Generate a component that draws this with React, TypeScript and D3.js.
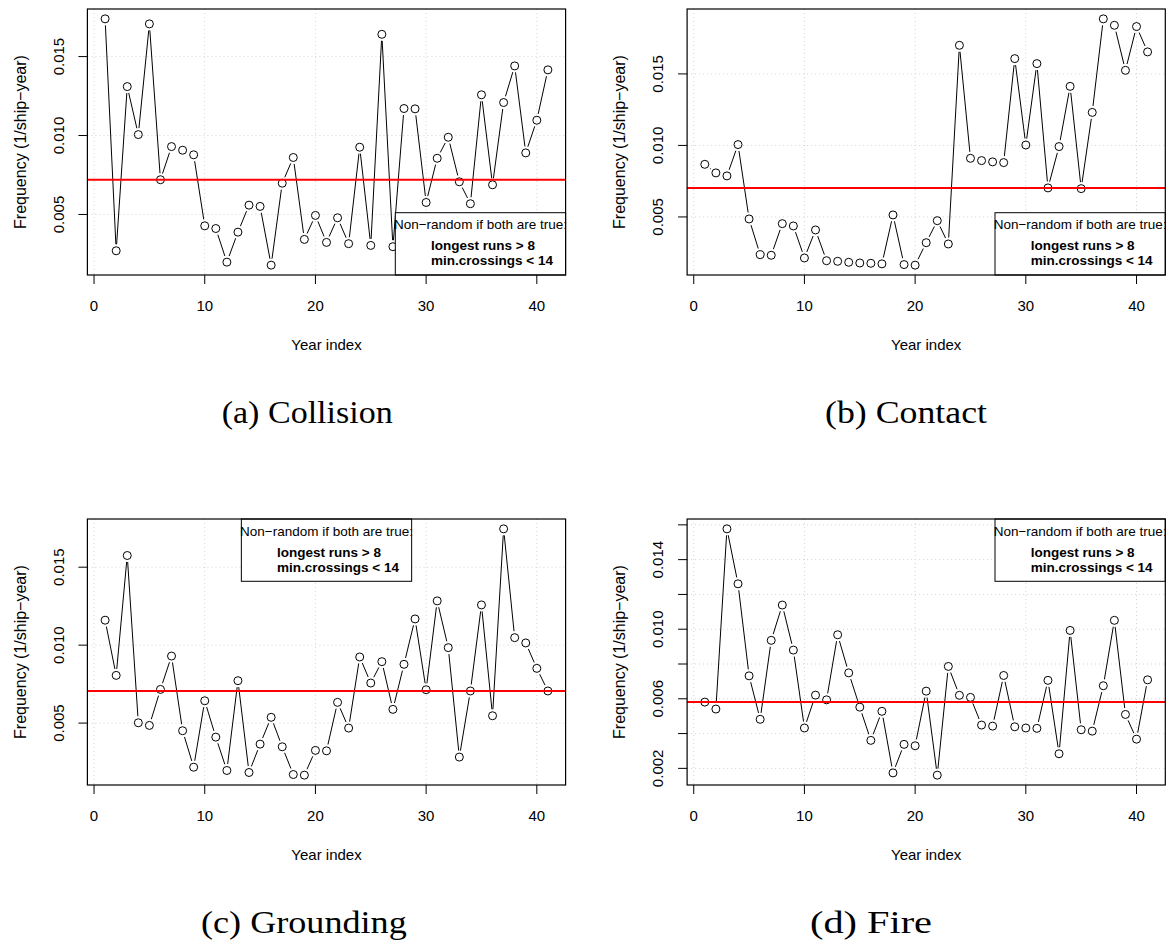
import React from "react";
import * as d3 from "d3";

const years = d3.range(1, 42);

const collision = [
  0.01739, 0.0027, 0.0131, 0.01006, 0.01707, 0.0072, 0.0093, 0.00907, 0.00878, 0.00428,
  0.00411, 0.00198, 0.00388, 0.00559, 0.00551, 0.00179, 0.00698, 0.00861, 0.00342, 0.00494,
  0.00323, 0.00479, 0.00315, 0.00926, 0.00304, 0.01641, 0.00296, 0.01171, 0.01169, 0.00576,
  0.00856, 0.00989, 0.00707, 0.00568, 0.01258, 0.00688, 0.01209, 0.01441, 0.0089, 0.01097,
  0.01416,
];
const contact = [
  0.00868, 0.00808, 0.00787, 0.01006, 0.00486, 0.00236, 0.00232, 0.00453, 0.00437, 0.00213,
  0.00409, 0.00194, 0.0019, 0.00183, 0.00178, 0.00176, 0.00172, 0.00514, 0.00167, 0.00163,
  0.0032, 0.00474, 0.00311, 0.017, 0.0091, 0.00894, 0.00885, 0.0088, 0.01607, 0.01003,
  0.01572, 0.00703, 0.00992, 0.01413, 0.00698, 0.01231, 0.01885, 0.0184, 0.01525, 0.01831,
  0.01654,
];
const grounding = [
  0.0116, 0.00806, 0.01575, 0.00502, 0.00485, 0.00716, 0.0093, 0.00451, 0.00217, 0.00643,
  0.0041, 0.00196, 0.00772, 0.00183, 0.00365, 0.00537, 0.00348, 0.0017, 0.00166, 0.00325,
  0.00322, 0.00633, 0.00468, 0.00924, 0.00757, 0.00894, 0.00588, 0.00877, 0.01168, 0.00714,
  0.01284, 0.00984, 0.00282, 0.00706, 0.01258, 0.00547, 0.01746, 0.01048, 0.01014, 0.00851,
  0.00706,
];
const fire = [
  0.00581, 0.00541, 0.01577, 0.01261, 0.00732, 0.00482, 0.00936, 0.01139, 0.0088, 0.00432,
  0.00621, 0.00594, 0.00968, 0.00749, 0.00552, 0.00361, 0.00528, 0.00174, 0.00338, 0.0033,
  0.00644, 0.00161, 0.00786, 0.0062, 0.00608, 0.00449, 0.00443, 0.00734, 0.00439, 0.00432,
  0.0043, 0.00706, 0.00284, 0.00993, 0.00422, 0.00414, 0.00675, 0.01051, 0.0051, 0.00368,
  0.00709,
];

const centerLines = [0.0072, 0.00703, 0.00706, 0.00581];
const captions = ["(a) Collision", "(b) Contact", "(c) Grounding", "(d) Fire"];
const xTicks = [0, 10, 20, 30, 40];
const yTicksStd = [0.005, 0.01, 0.015];
const yTicksFire = [0.002, 0.004, 0.006, 0.008, 0.01, 0.012, 0.014, 0.016];
const yLabelsFire = [0.002, 0.006, 0.01, 0.014];
const legendTitle = "Non\u2212random if both are true:";
const legendLines = ["longest runs > 8", "min.crossings < 14"];

const SANS = "'Liberation Sans', Arial, Helvetica, sans-serif";
const SERIF = "'Liberation Serif', 'Times New Roman', serif";

type PanelProps = {
  values: number[];
  center: number;
  left: number;
  top: number;
  yTicks: number[];
  yLabels: number[];
  legendPos: "bottomright" | "top" | "topright";
  caption: string;
  captionX0: number;
  captionX1: number;
};

const PW = 478.2;
const PH = 266;
const LW = 170.3;
const LH = 62.3;

function Panel({ values, center, left, top, yTicks, yLabels, legendPos, caption, captionX0, captionX1 }: PanelProps) {
  const x = d3.scaleLinear().domain([-0.6, 42.6]).range([left, left + PW]);
  const [mn, mx] = d3.extent(values) as [number, number];
  const pad = (mx - mn) * 0.04;
  const y = d3.scaleLinear().domain([mn - pad, mx + pad]).range([top + PH, top]);
  const fmt = d3.format(".3f");
  const r = 4;
  const gap = 6.5;
  const pts = values.map((v, i) => [x(years[i]), y(v)] as [number, number]);
  const segs: string[] = [];
  for (let i = 0; i < pts.length - 1; i++) {
    const [x0, y0] = pts[i];
    const [x1, y1] = pts[i + 1];
    const dx = x1 - x0;
    const dy = y1 - y0;
    const d = Math.sqrt(dx * dx + dy * dy);
    if (d > 2 * gap) {
      const ux = dx / d;
      const uy = dy / d;
      segs.push(`M${x0 + ux * gap},${y0 + uy * gap}L${x1 - ux * gap},${y1 - uy * gap}`);
    }
  }
  let lx = left + PW - LW;
  let ly = top + PH - LH;
  if (legendPos === "top") {
    lx = left + PW / 2 - LW / 2;
    ly = top;
  } else if (legendPos === "topright") {
    ly = top;
  }
  const bottom = top + PH;
  return (
    <g>
      {xTicks.map((t) => (
        <line key={"gx" + t} x1={x(t)} x2={x(t)} y1={top} y2={bottom} stroke="#d3d3d3" strokeDasharray="1,3" />
      ))}
      {yTicks.map((t) => (
        <line key={"gy" + t} x1={left} x2={left + PW} y1={y(t)} y2={y(t)} stroke="#d3d3d3" strokeDasharray="1,3" />
      ))}
      <path d={segs.join("")} stroke="#000" strokeWidth={1} fill="none" />
      {pts.map(([px, py], i) => (
        <circle key={i} cx={px} cy={py} r={r} fill="none" stroke="#000" strokeWidth={1} />
      ))}
      <line x1={left} x2={left + PW} y1={y(center)} y2={y(center)} stroke="#ff0000" strokeWidth={2} />
      <rect x={lx} y={ly} width={LW} height={LH} fill="#fff" stroke="#000" strokeWidth={1} />
      <text x={lx + LW / 2} y={ly + 12} dy="0.35em" textAnchor="middle" fontFamily={SANS} fontSize={13.5}>
        {legendTitle}
      </text>
      {legendLines.map((s, i) => (
        <text key={s} x={lx + 35.7} y={ly + 33 + i * 15} dy="0.35em" fontFamily={SANS} fontSize={13.5} fontWeight="bold">
          {s}
        </text>
      ))}
      <rect x={left} y={top} width={PW} height={PH} fill="none" stroke="#000" strokeWidth={1.2} />
      {xTicks.map((t) => (
        <g key={"xt" + t}>
          <line x1={x(t)} x2={x(t)} y1={bottom} y2={bottom + 9} stroke="#000" />
          <text x={x(t)} y={bottom + 31} dy="0.35em" textAnchor="middle" fontFamily={SANS} fontSize={15}>
            {t}
          </text>
        </g>
      ))}
      {yTicks.map((t) => (
        <line key={"yt" + t} x1={left - 9} x2={left} y1={y(t)} y2={y(t)} stroke="#000" />
      ))}
      {yLabels.map((t) => (
        <text
          key={"yl" + t}
          transform={`translate(${left - 29},${y(t)}) rotate(-90)`}
          dy="0.35em"
          textAnchor="middle"
          fontFamily={SANS}
          fontSize={15}
        >
          {fmt(t)}
        </text>
      ))}
      <text x={left + PW / 2} y={bottom + 70} dy="0.35em" textAnchor="middle" fontFamily={SANS} fontSize={15}>
        Year index
      </text>
      <text
        transform={`translate(${left - 67.5},${top + PH / 2}) rotate(-90)`}
        dy="0.35em"
        textAnchor="middle"
        fontFamily={SANS}
        fontSize={16}
      >
        Frequency (1/ship{"\u2212"}year)
      </text>
      <text
        x={captionX0}
        y={top + 414}
        fontFamily={SERIF}
        fontSize={32}
        textLength={captionX1 - captionX0}
        lengthAdjust="spacingAndGlyphs"
      >
        {caption}
      </text>
    </g>
  );
}

export default function App() {
  const L = [87.4, 687.1];
  const T = [9, 519];
  const capRanges = [
    [221.7, 392.7],
    [825, 987],
    [201, 406.7],
    [810, 932],
  ];
  return (
    <svg
      width={1166}
      height={942}
      style={{ position: "absolute", left: 0, top: 0, background: "#fff" }}
    >
      <rect x={0} y={0} width={1166} height={942} fill="#fff" />
      <Panel values={collision} center={centerLines[0]} left={L[0]} top={T[0]} yTicks={yTicksStd} yLabels={yTicksStd} legendPos="bottomright" caption={captions[0]} captionX0={capRanges[0][0]} captionX1={capRanges[0][1]} />
      <Panel values={contact} center={centerLines[1]} left={L[1]} top={T[0]} yTicks={yTicksStd} yLabels={yTicksStd} legendPos="bottomright" caption={captions[1]} captionX0={capRanges[1][0]} captionX1={capRanges[1][1]} />
      <Panel values={grounding} center={centerLines[2]} left={L[0]} top={T[1]} yTicks={yTicksStd} yLabels={yTicksStd} legendPos="top" caption={captions[2]} captionX0={capRanges[2][0]} captionX1={capRanges[2][1]} />
      <Panel values={fire} center={centerLines[3]} left={L[1]} top={T[1]} yTicks={yTicksFire} yLabels={yLabelsFire} legendPos="topright" caption={captions[3]} captionX0={capRanges[3][0]} captionX1={capRanges[3][1]} />
    </svg>
  );
}
